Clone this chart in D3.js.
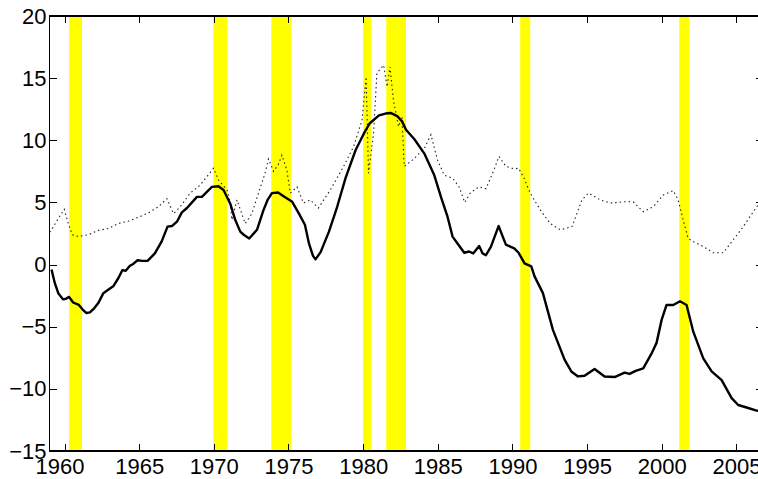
<!DOCTYPE html>
<html>
<head>
<meta charset="utf-8">
<script src="https://cdn.jsdelivr.net/npm/d3@7"></script>
<style>
  html, body { margin: 0; padding: 0; background: #fff; overflow: hidden; }
  svg { display: block; }
</style>
</head>
<body>
<script>
// ---- Data ----
const xTicks = [1960, 1965, 1970, 1975, 1980, 1985, 1990, 1995, 2000, 2005];
const yTicks = [-15, -10, -5, 0, 5, 10, 15, 20];

// Recession periods (start, end) in decimal years
const recStart = [1960.31, 1969.96, 1973.85, 1980.0, 1981.55, 1990.52, 2001.17];
const recEnd   = [1961.17, 1970.90, 1975.19, 1980.54, 1982.87, 1991.19, 2001.84];

// Solid series
const solidYears = [1959.13,1959.35,1959.58,1959.9,1960.1,1960.3,1960.58,1960.96,1961.2,1961.47,1961.7,1962.0,1962.26,1962.6,1962.9,1963.26,1963.6,1963.87,1964.1,1964.38,1964.6,1964.89,1965.2,1965.56,1966.05,1966.5,1966.9,1967.19,1967.53,1967.86,1968.2,1968.87,1969.2,1969.87,1970.31,1970.65,1971.1,1971.43,1971.77,1972.0,1972.37,1972.89,1973.33,1973.6,1973.89,1974.3,1974.67,1975.25,1975.7,1976.1,1976.37,1976.64,1976.81,1977.15,1977.71,1978.26,1978.82,1979.49,1980.05,1980.43,1981.06,1981.5,1981.84,1982.28,1982.62,1982.87,1983.42,1984.09,1984.76,1985.21,1985.65,1985.99,1986.32,1986.77,1987.1,1987.37,1987.77,1988.0,1988.22,1988.56,1989.07,1989.56,1990.12,1990.41,1990.81,1991.26,1991.48,1992.04,1992.71,1993.05,1993.49,1993.94,1994.39,1994.83,1995.5,1996.17,1996.84,1997.51,1997.84,1998.25,1998.76,1999.32,1999.65,1999.99,2000.32,2000.77,2001.22,2001.66,2002.11,2002.78,2003.34,2004.01,2004.68,2005.12,2005.68,2006.35,2006.75];
const solidVals  = [-0.4,-1.5,-2.3,-2.8,-2.75,-2.6,-3.05,-3.25,-3.6,-3.9,-3.85,-3.5,-3.1,-2.3,-2.05,-1.75,-1.1,-0.45,-0.5,-0.1,0.05,0.35,0.3,0.3,0.9,1.85,3.05,3.1,3.45,4.2,4.55,5.45,5.45,6.25,6.3,6.0,4.9,3.6,2.65,2.4,2.1,2.8,4.4,5.2,5.75,5.8,5.5,5.05,4.1,3.2,1.7,0.7,0.42,1.0,2.65,4.65,6.95,9.2,10.55,11.35,12.0,12.15,12.2,11.95,11.5,10.85,10.1,8.95,7.2,5.45,3.85,2.25,1.7,0.95,1.05,0.9,1.5,0.9,0.75,1.45,3.1,1.6,1.3,0.95,0.1,-0.15,-0.95,-2.3,-5.25,-6.3,-7.65,-8.6,-9.0,-8.95,-8.4,-9.0,-9.05,-8.7,-8.8,-8.55,-8.35,-7.15,-6.3,-4.45,-3.25,-3.25,-2.95,-3.25,-5.4,-7.55,-8.6,-9.3,-10.75,-11.3,-11.5,-11.75,-11.8];

// Dotted series
const dotYears = [1959.0,1959.13,1959.58,1959.98,1960.25,1960.52,1960.92,1961.59,1962.26,1962.93,1963.6,1964.27,1964.94,1965.6,1966.28,1966.86,1967.3,1967.75,1968.42,1969.09,1969.98,1970.31,1970.88,1971.1,1971.21,1971.55,1972.1,1972.55,1972.99,1973.44,1973.66,1974.0,1974.3,1974.56,1974.89,1975.12,1975.57,1976.0,1976.46,1977.0,1977.8,1978.69,1979.36,1979.92,1980.2,1980.36,1980.7,1980.92,1981.37,1981.6,1981.8,1982.03,1982.37,1982.6,1982.75,1983.3,1984.1,1984.54,1984.98,1985.43,1985.99,1986.43,1986.8,1987.2,1987.77,1988.22,1988.67,1989.1,1989.56,1990.1,1990.41,1990.74,1991.19,1991.86,1992.53,1993.2,1993.99,1994.65,1995.1,1995.88,1996.55,1997.44,1998.09,1998.76,1999.43,2000.1,2000.77,2001.1,2001.43,2001.77,2002.11,2002.78,2003.45,2004.12,2004.79,2005.46,2006.13,2006.75];
const dotVals  = [2.6,2.8,3.7,4.45,3.3,2.4,2.25,2.4,2.75,2.9,3.3,3.5,3.8,4.15,4.65,5.3,4.1,4.65,5.75,6.4,7.75,6.8,6.0,5.0,3.6,5.2,3.3,4.1,5.75,7.4,8.5,7.5,8.0,8.8,7.6,5.75,6.25,4.95,5.2,4.55,6.0,7.9,9.5,11.6,15.1,7.35,10.6,15.4,16.05,14.3,15.9,13.2,11.1,11.9,7.9,8.4,9.35,10.45,8.4,7.2,6.95,6.25,5.0,5.8,6.25,6.1,7.35,8.7,7.9,7.7,7.75,7.05,5.75,4.4,3.3,2.8,3.05,5.2,5.75,5.2,4.95,5.05,5.05,4.25,4.65,5.6,5.95,5.2,3.6,2.1,1.85,1.45,0.95,0.95,2.0,3.05,4.25,5.3];

// ---- Layout ----
const W = 758, H = 479;
const plotTop = 16, plotBottom = 451;
const xScale = d3.scaleLinear().domain([1959, 2006.8]).range([49.6, 763.3]);
const yScale = d3.scaleLinear().domain([-15, 20]).range([plotBottom, plotTop]);
const plotLeft = xScale(1959), plotRight = xScale(2006.8);
const FONT = "'Liberation Sans', Arial, Helvetica, sans-serif";

const svg = d3.select("body").append("svg").attr("width", W).attr("height", H);

svg.append("defs").append("clipPath").attr("id", "plotclip")
  .append("rect").attr("x", plotLeft).attr("y", plotTop).attr("width", plotRight - plotLeft).attr("height", plotBottom - plotTop);

const plot = svg.append("g").attr("clip-path", "url(#plotclip)");

// Recession bands
plot.selectAll("rect.rec").data(recStart.map((s, i) => [s, recEnd[i]])).enter()
  .append("rect").attr("class", "rec")
  .attr("x", d => xScale(d[0])).attr("width", d => xScale(d[1]) - xScale(d[0]))
  .attr("y", plotTop).attr("height", plotBottom - plotTop)
  .attr("fill", "#ffff00");

const line = d3.line().x(d => xScale(d[0])).y(d => yScale(d[1]));

plot.append("path")
  .datum(dotYears.map((y, i) => [y, dotVals[i]]))
  .attr("d", line).attr("fill", "none")
  .attr("stroke", "#222").attr("stroke-width", 1.1)
  .attr("stroke-dasharray", "1.5,3");

plot.append("path")
  .datum(solidYears.map((y, i) => [y, solidVals[i]]))
  .attr("d", line).attr("fill", "none")
  .attr("stroke", "#000").attr("stroke-width", 2.4)
  .attr("stroke-linejoin", "round");

// Axes (MATLAB style: inward ticks, box)
const tickLen = 7;
const fmtX = d3.format("d");

const gB = svg.append("g").attr("transform", `translate(0,${plotBottom})`)
  .call(d3.axisBottom(xScale).tickValues(xTicks).tickFormat(fmtX).tickSizeInner(-tickLen).tickSizeOuter(0).tickPadding(7.5));
const gT = svg.append("g").attr("transform", `translate(0,${plotTop})`)
  .call(d3.axisTop(xScale).tickValues(xTicks).tickFormat("").tickSizeInner(-tickLen).tickSizeOuter(0));
const gL = svg.append("g").attr("transform", `translate(${plotLeft},0)`)
  .call(d3.axisLeft(yScale).tickValues(yTicks).tickSizeInner(-tickLen).tickSizeOuter(0).tickPadding(3));
const gR = svg.append("g").attr("transform", `translate(${plotRight},0)`)
  .call(d3.axisRight(yScale).tickValues(yTicks).tickFormat("").tickSizeInner(-tickLen).tickSizeOuter(0));

[gB, gT, gL, gR].forEach(g => {
  g.select(".domain").remove();
  g.selectAll(".tick line").attr("stroke", "#000").attr("stroke-width", 1).attr("shape-rendering", "crispEdges");
  g.attr("font-family", FONT).attr("font-size", 22);
  g.selectAll(".tick text").style("font-family", FONT).style("font-size", "22px").attr("fill", "#000");
});
// first x label sits slightly left in the reference
gB.selectAll(".tick text").filter(d => d === 1960).attr("dx", -5);

svg.append("rect")
  .attr("x", plotLeft).attr("y", plotTop).attr("width", plotRight - plotLeft).attr("height", plotBottom - plotTop)
  .attr("fill", "none").attr("stroke", "#000").attr("stroke-width", 1.2)
  .attr("shape-rendering", "crispEdges");
</script>
</body>
</html>
